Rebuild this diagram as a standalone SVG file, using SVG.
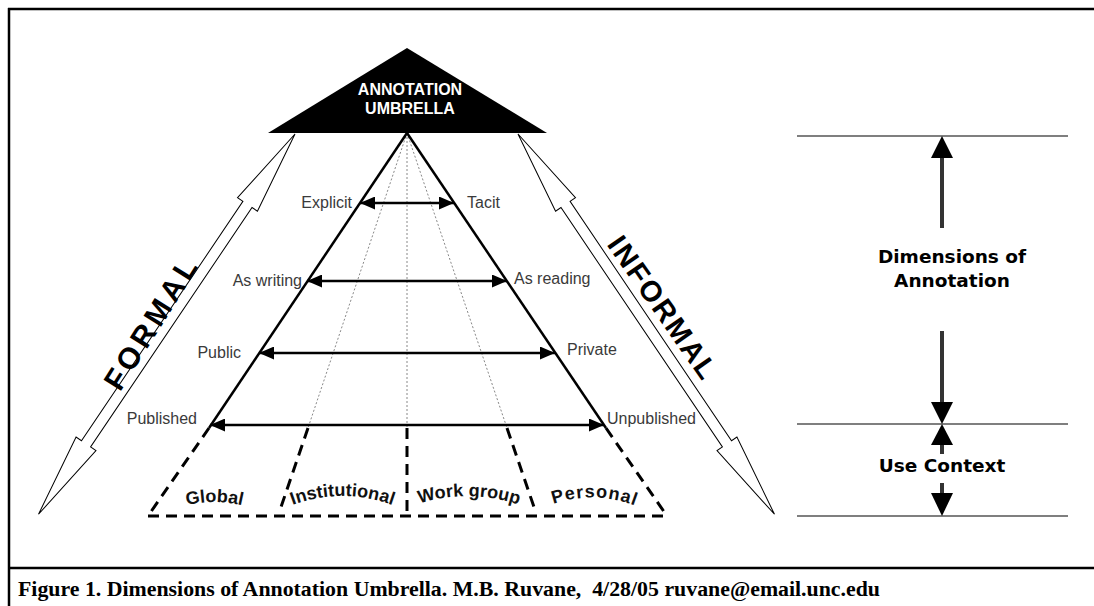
<svg xmlns="http://www.w3.org/2000/svg" width="1094" height="606" viewBox="0 0 1094 606">
<defs>
<style>
.lbl{font-family:"Liberation Sans",Arial,sans-serif;font-size:16px;fill:#3a3a3a}
.big{font-family:"Liberation Sans",Arial,sans-serif;font-weight:bold;fill:#000}
.ctx{font-family:"Liberation Sans",Arial,sans-serif;font-size:18px;font-weight:bold;fill:#111}
.dim{font-family:"DejaVu Sans",Verdana,sans-serif;font-size:18.5px;font-weight:bold;fill:#000}
.side{stroke:#000;stroke-width:2.5;fill:none}
.dash{stroke:#000;stroke-width:3;fill:none;stroke-dasharray:11 7}
.dot{stroke:#888;stroke-width:1;fill:none;stroke-dasharray:2 2}
.dbl{stroke:#000;stroke-width:2.5;fill:none;marker-start:url(#ah);marker-end:url(#ah)}
.hollow{fill:#fff;stroke:#000;stroke-width:1}
.rule{stroke:#555;stroke-width:1.5}
</style>
<marker id="ah" viewBox="0 0 15 13" refX="15" refY="6.5" markerWidth="15" markerHeight="13" markerUnits="userSpaceOnUse" orient="auto-start-reverse">
<path d="M0,0 L15,6.5 L0,13 Z" fill="#000"/>
</marker>
<path id="pGlobal" d="M184,506 Q214,498 245,506"/>
<path id="pInst" d="M290,506 Q342,486 395,506"/>
<path id="pWork" d="M415,505 Q468,487 523,506"/>
<path id="pPers" d="M548,506 Q594,488 641,508"/>
</defs>
<rect width="1094" height="606" fill="#fff"/>
<g id="frame">
<line x1="8" y1="9" x2="1094" y2="9" stroke="#000" stroke-width="2.5"/>
<line x1="9" y1="8" x2="9" y2="606" stroke="#000" stroke-width="2.5"/>
<line x1="8" y1="568" x2="1094" y2="568" stroke="#000" stroke-width="2.5"/>
</g>
<g id="umbrella">
<polygon points="407,48 268,133 547,133" fill="#000"/>
<text x="410" y="95" text-anchor="middle" font-family="Liberation Sans, Arial, sans-serif" font-size="16" font-weight="bold" fill="#fff">ANNOTATION</text>
<text x="410" y="114" text-anchor="middle" font-family="Liberation Sans, Arial, sans-serif" font-size="16" font-weight="bold" fill="#fff">UMBRELLA</text>
</g>
<g id="formal">
<polygon class="hollow" transform="translate(295,134) rotate(124)" points="0,0 85,-12 85,-5.5 373.7,-5.5 373.7,-12 458.7,0 373.7,12 373.7,5.5 85,5.5 85,12"/>
<text class="big" font-size="30" letter-spacing="4" transform="translate(151,322) rotate(-58)" x="0" y="11" text-anchor="middle">FORMAL</text>
</g>
<g id="informal">
<polygon class="hollow" transform="translate(518,134) rotate(56)" points="0,0 85,-12 85,-5.5 373.7,-5.5 373.7,-12 458.7,0 373.7,12 373.7,5.5 85,5.5 85,12"/>
<text class="big" font-size="29" letter-spacing="2" transform="translate(663,308) rotate(55)" x="0" y="10" text-anchor="middle">INFORMAL</text>
</g>
<g id="pyramid">
<line class="dot" x1="407" y1="133" x2="308" y2="428"/>
<line class="dot" x1="407" y1="133" x2="407" y2="428"/>
<line class="dot" x1="407" y1="133" x2="507" y2="428"/>
<line class="side" x1="407" y1="133" x2="209" y2="428"/>
<line class="side" x1="407" y1="133" x2="606" y2="428"/>
<line class="dash" x1="209" y1="428" x2="148" y2="516"/>
<line class="dash" x1="606" y1="428" x2="667" y2="516"/>
<line class="dash" x1="148" y1="516" x2="667" y2="516"/>
<line class="dash" x1="308" y1="428" x2="280" y2="510"/>
<line class="dash" x1="407" y1="428" x2="407" y2="516"/>
<line class="dash" x1="507" y1="428" x2="535" y2="510"/>
</g>
<g id="connectors">
<line class="dbl" x1="360" y1="203" x2="454" y2="203"/>
<line class="dbl" x1="307" y1="281" x2="507" y2="281"/>
<line class="dbl" x1="259" y1="353" x2="555" y2="353"/>
<line class="dbl" x1="210" y1="425" x2="604" y2="425"/>
</g>
<g id="dim-labels">
<text class="lbl" x="352" y="208" text-anchor="end">Explicit</text>
<text class="lbl" x="467" y="208">Tacit</text>
<text class="lbl" x="302" y="286" text-anchor="end">As writing</text>
<text class="lbl" x="514" y="284">As reading</text>
<text class="lbl" x="241" y="358" text-anchor="end">Public</text>
<text class="lbl" x="567" y="355">Private</text>
<text class="lbl" x="197" y="424" text-anchor="end">Published</text>
<text class="lbl" x="607" y="424">Unpublished</text>
</g>
<g id="contexts">
<text class="ctx"><textPath href="#pGlobal" startOffset="50%" text-anchor="middle">Global</textPath></text>
<text class="ctx"><textPath href="#pInst" startOffset="50%" text-anchor="middle">Institutional</textPath></text>
<text class="ctx"><textPath href="#pWork" startOffset="50%" text-anchor="middle">Work group</textPath></text>
<text class="ctx" letter-spacing="1"><textPath href="#pPers" startOffset="50%" text-anchor="middle">Personal</textPath></text>
</g>
<g id="scale">
<line class="rule" x1="797" y1="136" x2="1068" y2="136"/>
<line class="rule" x1="797" y1="424" x2="1068" y2="424"/>
<line class="rule" x1="797" y1="516" x2="1068" y2="516"/>
<rect x="940" y="156" width="4" height="72" fill="#333"/>
<polygon points="942,136 931,158 953,158" fill="#000"/>
<rect x="940" y="331" width="4" height="73" fill="#333"/>
<polygon points="942,424 931,402 953,402" fill="#000"/>
<rect x="940" y="443" width="4" height="11" fill="#333"/>
<polygon points="942,424 931,445 953,445" fill="#000"/>
<rect x="940" y="483" width="4" height="12" fill="#333"/>
<polygon points="942,516 931,493 953,493" fill="#000"/>
<text class="dim" x="952" y="263" text-anchor="middle">Dimensions of</text>
<text class="dim" x="952" y="287" text-anchor="middle">Annotation</text>
<text class="dim" x="942" y="472" text-anchor="middle">Use Context</text>
</g>
<g id="caption">
<text x="18" y="596" font-family="Liberation Serif, 'Times New Roman', serif" font-size="20" font-weight="bold" fill="#000" style="white-space:pre" textLength="862" lengthAdjust="spacingAndGlyphs">Figure 1. Dimensions of Annotation Umbrella. M.B. Ruvane,  4/28/05 ruvane@email.unc.edu</text>
</g>
</svg>
